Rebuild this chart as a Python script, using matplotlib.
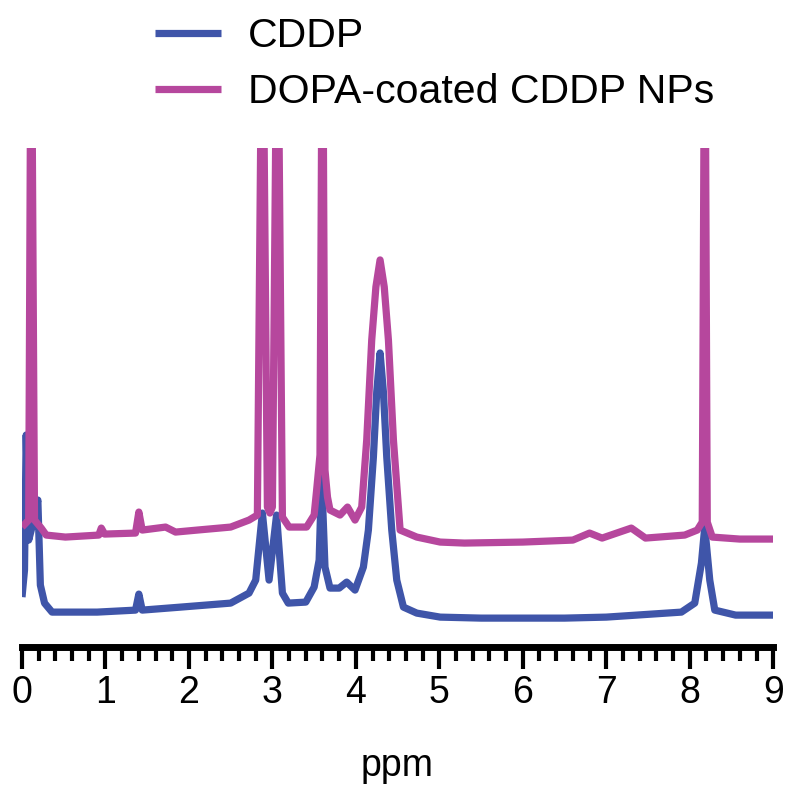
# -*- coding: utf-8 -*-
"""
1H NMR spectra of CDDP and DOPA-coated CDDP NPs.
"""

import matplotlib
matplotlib.use('Agg')
import matplotlib.pyplot as plt

# %% Data (intensity in arbitrary units, offset as plotted).
ppm_cddp = [0.00, 0.03, 0.05, 0.08, 0.12, 0.19, 0.22, 0.27, 0.36, 0.90,
            1.36, 1.40, 1.44, 1.90, 2.50, 2.72, 2.80, 2.88, 2.96, 3.05,
            3.12, 3.19, 3.40, 3.50, 3.56, 3.59, 3.63, 3.69, 3.80, 3.89,
            3.99, 4.09, 4.15, 4.21, 4.25, 4.29, 4.33, 4.37, 4.43, 4.49,
            4.57, 4.73, 5.01, 5.50, 6.50, 7.00, 7.90, 8.06, 8.14, 8.18,
            8.24, 8.30, 8.55, 9.00]
int_cddp = [50, 77, 212, 107, 120, 147, 62, 44, 35, 35,
            37, 53, 37, 40, 44, 54, 67, 134, 67, 132,
            54, 44, 45, 60, 87, 170, 80, 59, 59, 65,
            57, 80, 117, 190, 255, 294, 255, 190, 117, 67,
            40, 34, 30, 29, 29, 30, 35, 44, 84, 120,
            67, 37, 32, 32]

ppm_dopa = [0.00, 0.08, 0.11, 0.15, 0.23, 0.29, 0.52, 0.92, 0.95, 0.99,
            1.36, 1.40, 1.44, 1.72, 1.84, 2.10, 2.50, 2.72, 2.82, 2.88,
            2.94, 2.97, 3.00, 3.06, 3.12, 3.20, 3.41, 3.50, 3.53, 3.57,
            3.60, 3.63, 3.66, 3.69, 3.81, 3.90, 3.99, 4.07, 4.13, 4.19,
            4.24, 4.29, 4.34, 4.39, 4.45, 4.53, 4.73, 5.01, 5.30, 6.00,
            6.60, 6.80, 6.95, 7.30, 7.47, 7.94, 8.09, 8.15, 8.18, 8.21,
            8.27, 8.60, 9.00]
int_dopa = [120, 127, 700, 127, 119, 112, 110, 112, 119, 113,
            114, 135, 117, 120, 115, 117, 120, 127, 132, 700,
            140, 134, 140, 700, 130, 120, 120, 132, 157, 192,
            700, 177, 150, 137, 132, 140, 127, 140, 207, 307,
            360, 387, 360, 307, 207, 117, 110, 105, 104, 105,
            107, 114, 109, 119, 109, 112, 117, 125, 700, 125,
            110, 108, 108]

labels = ['CDDP', 'DOPA-coated CDDP NPs']
colours = ['#3f55a9', '#b6479d']

# %% Plotting.
plt.rcParams['font.family'] = ['Liberation Sans', 'DejaVu Sans']

fig = plt.figure(figsize=(8, 7.95), dpi=100)
ax = fig.add_axes([0.0275, 0.186, 0.939, 0.628])

ax.plot(ppm_cddp, int_cddp, color=colours[0], linewidth=5.2, label=labels[0],
        solid_joinstyle='round', solid_capstyle='butt')
ax.plot(ppm_dopa, int_dopa, color=colours[1], linewidth=5.2, label=labels[1],
        solid_joinstyle='round', solid_capstyle='butt')

ax.set_xlim(0, 9)
ax.set_ylim(0, 499)

# Only the bottom axis is shown.
for side in ['left', 'right', 'top']:
    ax.spines[side].set_visible(False)
ax.spines['bottom'].set_linewidth(5)
ax.set_yticks([])

ax.set_xticks(range(0, 10))
ax.set_xticks([i * 0.2 for i in range(46)], minor=True)
ax.tick_params(axis='x', which='major', length=16, width=3, pad=4,
               labelsize=27, direction='out')
ax.tick_params(axis='x', which='minor', length=10, width=3, direction='out')
ax.set_xlabel('ppm', fontsize=27, labelpad=27)

# Legend above the spectra.
ax.legend(loc='upper left', bbox_to_anchor=(0.194, 0.978), bbox_transform=fig.transFigure,
          frameon=False, fontsize=29.5, handlelength=1.6, handletextpad=0.67,
          labelspacing=0.43, borderpad=0, borderaxespad=0)

fig.savefig('out.png', dpi=100)
plt.close(fig)
